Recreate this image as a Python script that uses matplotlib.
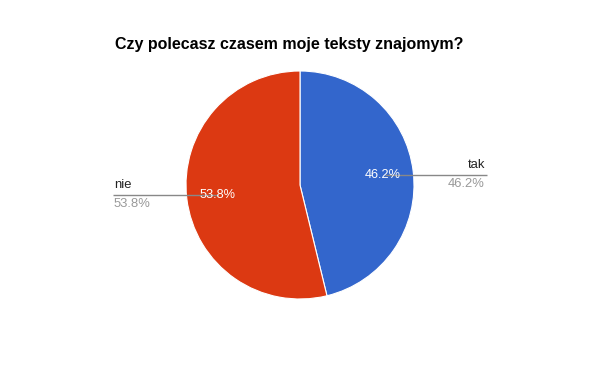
import numpy as np
import matplotlib
matplotlib.use("Agg")
import matplotlib.pyplot as plt

title = "Czy polecasz czasem moje teksty znajomym?"
categories = ["tak", "nie"]
values = [46.2, 53.8]
colors = ["#3366CC", "#DC3912"]

W, H = 600, 371
fig = plt.figure(figsize=(W / 100, H / 100), dpi=100)
ax = fig.add_axes([0, 0, 1, 1])
ax.set_xlim(0, W)
ax.set_ylim(0, H)
ax.set_aspect("equal")
ax.axis("off")

cx, cy, R = 300, H - 185, 114
wedges, _ = ax.pie(values, colors=colors, startangle=90, counterclock=False,
                   center=(cx, cy), radius=R,
                   wedgeprops=dict(linewidth=0.8, edgecolor="white"))
ax.set_xlim(0, W)
ax.set_ylim(0, H)

font = "Liberation Sans"
fig.text(115 / W, 1 - 45 / H, title, fontsize=11.5, fontweight="bold",
         family=font, ha="left", va="center", color="black")

total = sum(values)
for i, w in enumerate(wedges):
    mid = np.deg2rad((w.theta1 + w.theta2) / 2)
    lx = cx + 0.73 * R * np.cos(mid)
    ly = cy + 0.73 * R * np.sin(mid)
    pct = f"{values[i] / total * 100:.1f}%"
    ax.text(lx, ly, pct, color="white", fontsize=9.2, family=font,
            ha="center", va="center")
    if np.cos(mid) > 0:
        x0, x1 = lx + 2, 487
        ax.plot([x0, x1], [ly, ly], color="#888888", lw=1.0, solid_capstyle="butt")
        ax.text(485, ly + 4, categories[i], fontsize=9.4, family=font,
                ha="right", va="bottom", color="#222222")
        ax.text(485, ly - 3, pct, fontsize=9.4, family=font,
                ha="right", va="top", color="#999999")
    else:
        x0, x1 = 113, lx + 1
        ax.plot([x0, x1], [ly, ly], color="#888888", lw=1.0, solid_capstyle="butt")
        ax.text(114, ly + 4, categories[i], fontsize=9.4, family=font,
                ha="left", va="bottom", color="#222222")
        ax.text(114, ly - 3, pct, fontsize=9.4, family=font,
                ha="left", va="top", color="#999999")

fig.savefig("out.png", dpi=100, facecolor="white")
